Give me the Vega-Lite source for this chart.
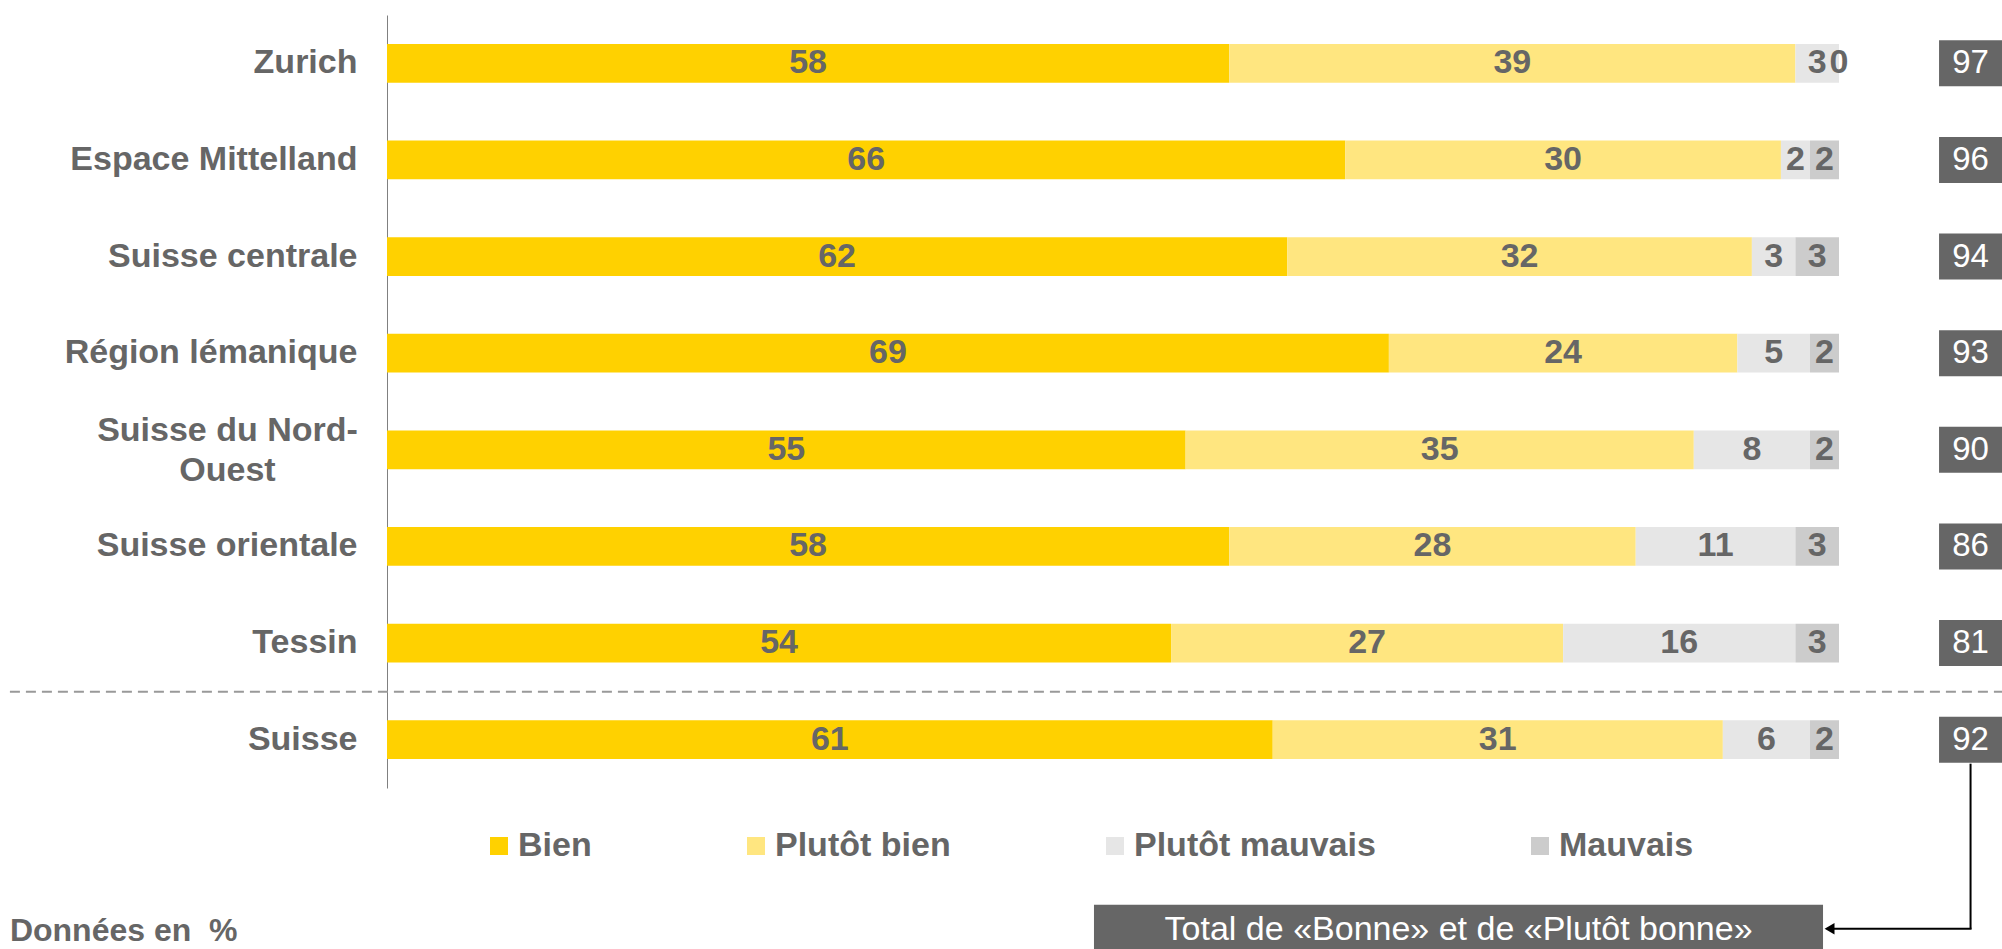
{
  "$schema": "https://vega.github.io/schema/vega-lite/v6.json",
  "width": 1452,
  "height": 773,
  "autosize": {"type": "none"},
  "padding": {"left": 387, "top": 15, "right": 163, "bottom": 161},
  "background": "white",
  "config": {"font": "Liberation Sans", "view": {"stroke": null}},
  "datasets": {
    "resp": [
      {"r": "Zurich", "c": "Bien", "k": 1, "v": 58},
      {"r": "Zurich", "c": "Plutôt bien", "k": 2, "v": 39},
      {"r": "Zurich", "c": "Plutôt mauvais", "k": 3, "v": 3},
      {"r": "Zurich", "c": "Mauvais", "k": 4, "v": 0},
      {"r": "Espace Mittelland", "c": "Bien", "k": 1, "v": 66},
      {"r": "Espace Mittelland", "c": "Plutôt bien", "k": 2, "v": 30},
      {"r": "Espace Mittelland", "c": "Plutôt mauvais", "k": 3, "v": 2},
      {"r": "Espace Mittelland", "c": "Mauvais", "k": 4, "v": 2},
      {"r": "Suisse centrale", "c": "Bien", "k": 1, "v": 62},
      {"r": "Suisse centrale", "c": "Plutôt bien", "k": 2, "v": 32},
      {"r": "Suisse centrale", "c": "Plutôt mauvais", "k": 3, "v": 3},
      {"r": "Suisse centrale", "c": "Mauvais", "k": 4, "v": 3},
      {"r": "Région lémanique", "c": "Bien", "k": 1, "v": 69},
      {"r": "Région lémanique", "c": "Plutôt bien", "k": 2, "v": 24},
      {"r": "Région lémanique", "c": "Plutôt mauvais", "k": 3, "v": 5},
      {"r": "Région lémanique", "c": "Mauvais", "k": 4, "v": 2},
      {"r": "Suisse du Nord-Ouest", "c": "Bien", "k": 1, "v": 55},
      {"r": "Suisse du Nord-Ouest", "c": "Plutôt bien", "k": 2, "v": 35},
      {"r": "Suisse du Nord-Ouest", "c": "Plutôt mauvais", "k": 3, "v": 8},
      {"r": "Suisse du Nord-Ouest", "c": "Mauvais", "k": 4, "v": 2},
      {"r": "Suisse orientale", "c": "Bien", "k": 1, "v": 58},
      {"r": "Suisse orientale", "c": "Plutôt bien", "k": 2, "v": 28},
      {"r": "Suisse orientale", "c": "Plutôt mauvais", "k": 3, "v": 11},
      {"r": "Suisse orientale", "c": "Mauvais", "k": 4, "v": 3},
      {"r": "Tessin", "c": "Bien", "k": 1, "v": 54},
      {"r": "Tessin", "c": "Plutôt bien", "k": 2, "v": 27},
      {"r": "Tessin", "c": "Plutôt mauvais", "k": 3, "v": 16},
      {"r": "Tessin", "c": "Mauvais", "k": 4, "v": 3},
      {"r": "Suisse", "c": "Bien", "k": 1, "v": 61},
      {"r": "Suisse", "c": "Plutôt bien", "k": 2, "v": 31},
      {"r": "Suisse", "c": "Plutôt mauvais", "k": 3, "v": 6},
      {"r": "Suisse", "c": "Mauvais", "k": 4, "v": 2}
    ],
    "tot": [
      {"r": "Zurich", "t": 97},
      {"r": "Espace Mittelland", "t": 96},
      {"r": "Suisse centrale", "t": 94},
      {"r": "Région lémanique", "t": 93},
      {"r": "Suisse du Nord-Ouest", "t": 90},
      {"r": "Suisse orientale", "t": 86},
      {"r": "Tessin", "t": 81},
      {"r": "Suisse", "t": 92}
    ]
  },
  "layer": [
    {
      "data": {"name": "resp"},
      "mark": {"type": "bar"},
      "encoding": {
        "y": {
          "field": "r",
          "type": "nominal",
          "scale": {
            "domain": ["Zurich", "Espace Mittelland", "Suisse centrale", "Région lémanique", "Suisse du Nord-Ouest", "Suisse orientale", "Tessin", "Suisse"],
            "paddingInner": 0.6,
            "paddingOuter": 0.3
          },
          "axis": {
            "title": null,
            "ticks": false,
            "grid": false,
            "domainColor": "#808080",
            "domainWidth": 1,
            "labelFontSize": 34,
            "labelFontWeight": "bold",
            "labelColor": "#666666",
            "labelPadding": {"condition": {"test": "datum.value == 'Suisse du Nord-Ouest'", "value": 160}, "value": 30},
            "labelAlign": {"condition": {"test": "datum.value == 'Suisse du Nord-Ouest'", "value": "center"}, "value": "right"},
            "labelLimit": 500,
            "labelLineHeight": 40,
            "labelOffset": {"condition": {"test": "datum.value == 'Suisse du Nord-Ouest'", "value": -19}, "value": 0},
            "labelExpr": "datum.value == 'Suisse du Nord-Ouest' ? ['Suisse du Nord-', 'Ouest'] : datum.value"
          }
        },
        "x": {
          "field": "v",
          "type": "quantitative",
          "stack": "zero",
          "scale": {"domain": [0, 100], "nice": false, "zero": true},
          "axis": null
        },
        "color": {
          "field": "c",
          "type": "nominal",
          "scale": {
            "domain": ["Bien", "Plutôt bien", "Plutôt mauvais", "Mauvais"],
            "range": ["#FFD100", "#FFE680", "#E6E6E6", "#CCCCCC"]
          },
          "legend": {
            "title": null,
            "orient": "none",
            "legendX": 95,
            "legendY": 814,
            "direction": "horizontal",
            "symbolType": "square",
            "symbolSize": 324,
            "symbolStrokeWidth": 0,
            "labelFontSize": 34,
            "labelFontWeight": "bold",
            "labelColor": "#666666",
            "labelOffset": 2,
            "columnPadding": 147,
            "padding": 0,
            "symbolOffset": 0,
            "labelLimit": 500
          }
        },
        "order": {"field": "k", "type": "quantitative"}
      }
    },
    {
      "data": {"name": "resp"},
      "mark": {"type": "text", "fontSize": 34, "fontWeight": "bold", "color": "#666666", "baseline": "middle", "align": "center"},
      "encoding": {
        "y": {"field": "r", "type": "nominal"},
        "x": {"field": "v", "type": "quantitative", "stack": "zero", "bandPosition": 0.5},
        "order": {"field": "k", "type": "quantitative"},
        "text": {"field": "v", "type": "quantitative"}
      }
    },
    {
      "data": {"name": "tot"},
      "mark": {"type": "bar", "color": "#666666", "height": 46},
      "encoding": {
        "y": {"field": "r", "type": "nominal"},
        "x": {"datum": 106.89},
        "x2": {"datum": 111.3}
      }
    },
    {
      "data": {"name": "tot"},
      "mark": {"type": "text", "fontSize": 33, "color": "white", "baseline": "middle", "align": "center"},
      "encoding": {
        "y": {"field": "r", "type": "nominal"},
        "x": {"datum": 109.06},
        "text": {"field": "t", "type": "quantitative"}
      }
    },
    {
      "data": {"values": [{}]},
      "mark": {"type": "rule", "color": "#999999", "strokeWidth": 2, "strokeDash": [10, 6], "yOffset": -48},
      "encoding": {
        "y": {"datum": "Suisse", "type": "nominal"},
        "x": {"datum": -25.97},
        "x2": {"datum": 111.3}
      }
    },
    {
      "data": {"values": [{}]},
      "mark": {"type": "bar", "color": "#666666", "height": 50, "yOffset": 190},
      "encoding": {
        "y": {"datum": "Suisse", "type": "nominal"},
        "x": {"datum": 48.69},
        "x2": {"datum": 98.9}
      }
    },
    {
      "data": {"values": [{}]},
      "mark": {"type": "text", "fontSize": 34, "color": "white", "baseline": "middle", "align": "center", "yOffset": 190},
      "encoding": {
        "y": {"datum": "Suisse", "type": "nominal"},
        "x": {"datum": 73.8},
        "text": {"value": "Total de «Bonne» et de «Plutôt bonne»"}
      }
    },
    {
      "data": {"values": [{}]},
      "mark": {"type": "rule", "color": "black", "strokeWidth": 2, "yOffset": 24, "y2Offset": 189},
      "encoding": {
        "y": {"datum": "Suisse", "type": "nominal"},
        "y2": {"datum": "Suisse"},
        "x": {"datum": 109.06}
      }
    },
    {
      "data": {"values": [{}]},
      "mark": {"type": "rule", "color": "black", "strokeWidth": 2, "yOffset": 189},
      "encoding": {
        "y": {"datum": "Suisse", "type": "nominal"},
        "x": {"datum": 109.13},
        "x2": {"datum": 99.6}
      }
    },
    {
      "data": {"values": [{}]},
      "mark": {"type": "point", "shape": "triangle-left", "filled": true, "color": "black", "size": 130, "opacity": 1, "yOffset": 189},
      "encoding": {
        "y": {"datum": "Suisse", "type": "nominal"},
        "x": {"datum": 99.35}
      }
    },
    {
      "data": {"values": [{}]},
      "mark": {"type": "text", "fontSize": 32, "fontWeight": "bold", "color": "#666666", "baseline": "middle", "align": "left", "yOffset": 191},
      "encoding": {
        "y": {"datum": "Suisse", "type": "nominal"},
        "x": {"datum": -25.97},
        "text": {"value": "Données en\u00a0 %"}
      }
    }
  ]
}
